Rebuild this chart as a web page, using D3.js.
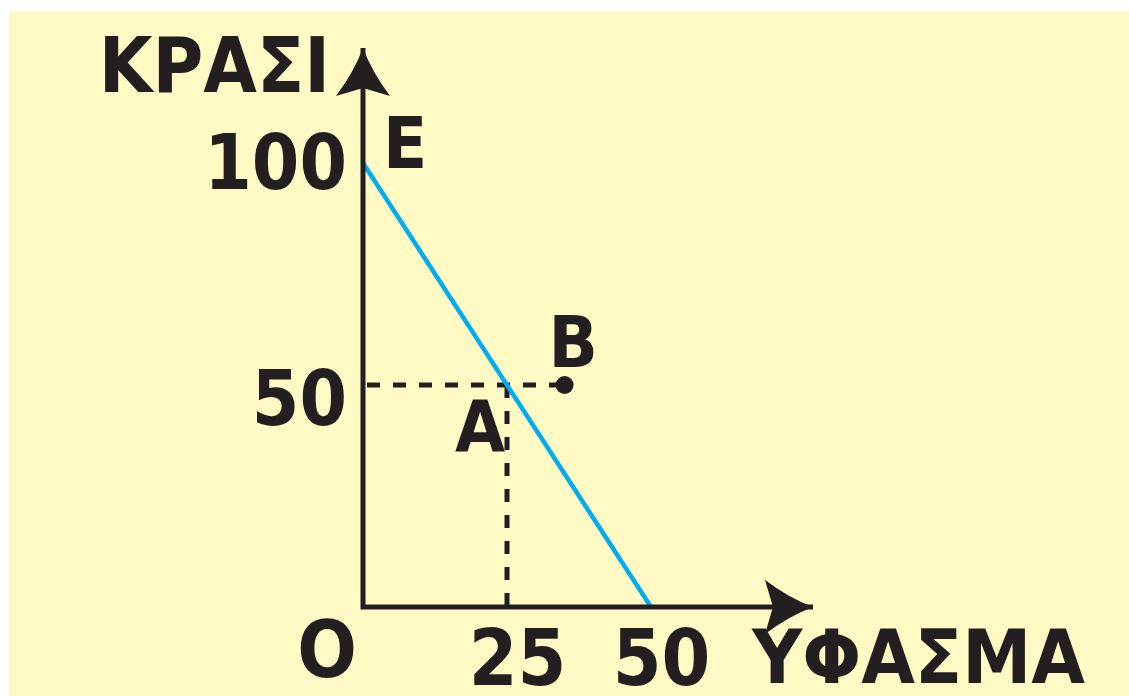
<!DOCTYPE html>
<html>
<head>
<meta charset="utf-8">
<script src="https://cdn.jsdelivr.net/npm/d3@7"></script>
<style>
  body { margin: 0; background: #fff; }
  text { font-family: "DejaVu Sans Condensed", "DejaVu Sans", sans-serif; font-weight: bold; fill: #231f20; }
</style>
</head>
<body>
<div id="chart"></div>
<script>
var svgWidth = 1129;
var svgHeight = 696;

// data
var xTicks = [25, 50];
var yTicks = [50, 100];
var budgetX = [0, 50];      // cloth
var budgetY = [100, 0];     // wine
var pointNames = ["Ε", "Α", "Β"];
var pointX = [0, 25, 35];
var pointY = [100, 50, 50];
var xLabel = "ΥΦΑΣΜΑ";
var yLabel = "ΚΡΑΣΙ";
var originLabel = "O";

var svg = d3.select("#chart")
    .append("svg")
    .attr("width", svgWidth)
    .attr("height", svgHeight);

svg.append("rect")
    .attr("x", 9)
    .attr("y", 11)
    .attr("width", svgWidth - 9)
    .attr("height", svgHeight - 11)
    .attr("fill", "#fff9c4");

var x = d3.scaleLinear().domain([0, 50]).range([363, 651]);
var y = d3.scaleLinear().domain([0, 100]).range([607, 163]);

// arrow head
svg.append("defs").append("marker")
    .attr("id", "arrow")
    .attr("markerUnits", "userSpaceOnUse")
    .attr("viewBox", "-50 -30 52 60")
    .attr("refX", 0)
    .attr("refY", 0)
    .attr("markerWidth", 52)
    .attr("markerHeight", 60)
    .attr("orient", "auto-start-reverse")
    .append("path")
    .attr("d", "M0,0 Q-24,-9 -48,-27 L-40,0 L-48,27 Q-24,9 0,0 Z")
    .attr("fill", "#231f20");

// dashed guides
svg.append("line")
    .attr("x1", x(0) + 4).attr("x2", x(pointX[2]))
    .attr("y1", y(50)).attr("y2", y(50))
    .attr("stroke", "#231f20")
    .attr("stroke-width", 5)
    .attr("stroke-dasharray", "13,13");

svg.append("line")
    .attr("x1", x(25)).attr("x2", x(25))
    .attr("y1", y(50)).attr("y2", y(0))
    .attr("stroke", "#231f20")
    .attr("stroke-width", 5)
    .attr("stroke-dasharray", "13,13");

// budget line
var line = d3.line()
    .x(function (d, i) { return x(budgetX[i]); })
    .y(function (d) { return y(d); });

svg.append("path")
    .datum(budgetY)
    .attr("d", line)
    .attr("fill", "none")
    .attr("stroke", "#00aeef")
    .attr("stroke-width", 4.5);

// axes lines with arrows
svg.append("path")
    .attr("d", "M" + x(0) + ",48 L" + x(0) + "," + y(0) + " L813," + y(0))
    .attr("fill", "none")
    .attr("stroke", "#231f20")
    .attr("stroke-width", 5)
    .attr("marker-start", "url(#arrow)")
    .attr("marker-end", "url(#arrow)");

// tick labels
var leftAxis = d3.axisLeft(y).tickValues(yTicks).tickSize(0).tickPadding(16);
var gy = svg.append("g")
    .attr("transform", "translate(" + x(0) + ",0)")
    .call(leftAxis);
gy.select(".domain").remove();
gy.selectAll("text")
    .attr("font-size", 76)
    .attr("font-family", null)
    .attr("dy", function (d) { return d === 50 ? "0.52em" : "0.34em"; });

var bottomAxis = d3.axisBottom(x).tickValues(xTicks).tickSize(0).tickPadding(23);
var gx = svg.append("g")
    .attr("transform", "translate(0," + y(0) + ")")
    .call(bottomAxis);
gx.select(".domain").remove();
gx.selectAll("text")
    .attr("font-size", 78)
    .attr("font-family", null)
    .attr("dx", 10);

svg.selectAll(".tick text").style("fill", "#231f20");

// axis titles
svg.append("text")
    .attr("x", 330)
    .attr("y", 92)
    .attr("text-anchor", "end")
    .attr("font-size", 77)
    .text(yLabel);

svg.append("text")
    .attr("x", 752)
    .attr("y", 683)
    .attr("font-size", 75)
    .attr("textLength", 333)
    .attr("lengthAdjust", "spacingAndGlyphs")
    .text(xLabel);

svg.append("text")
    .attr("x", x(0) - 36)
    .attr("y", 677)
    .attr("text-anchor", "middle")
    .attr("font-size", 78)
    .text(originLabel);

// point B dot
svg.append("circle")
    .attr("cx", x(pointX[2]))
    .attr("cy", y(pointY[2]))
    .attr("r", 9)
    .attr("fill", "#231f20");

// point letters
var labelOffset = [[20, 5], [-52, 66], [-16, -18]];
svg.selectAll(".pt-label")
    .data(pointNames)
    .enter()
    .append("text")
    .attr("class", "pt-label")
    .attr("x", function (d, i) { return x(pointX[i]) + labelOffset[i][0]; })
    .attr("y", function (d, i) { return y(pointY[i]) + labelOffset[i][1]; })
    .attr("font-size", 72)
    .text(function (d) { return d; });
</script>
</body>
</html>
